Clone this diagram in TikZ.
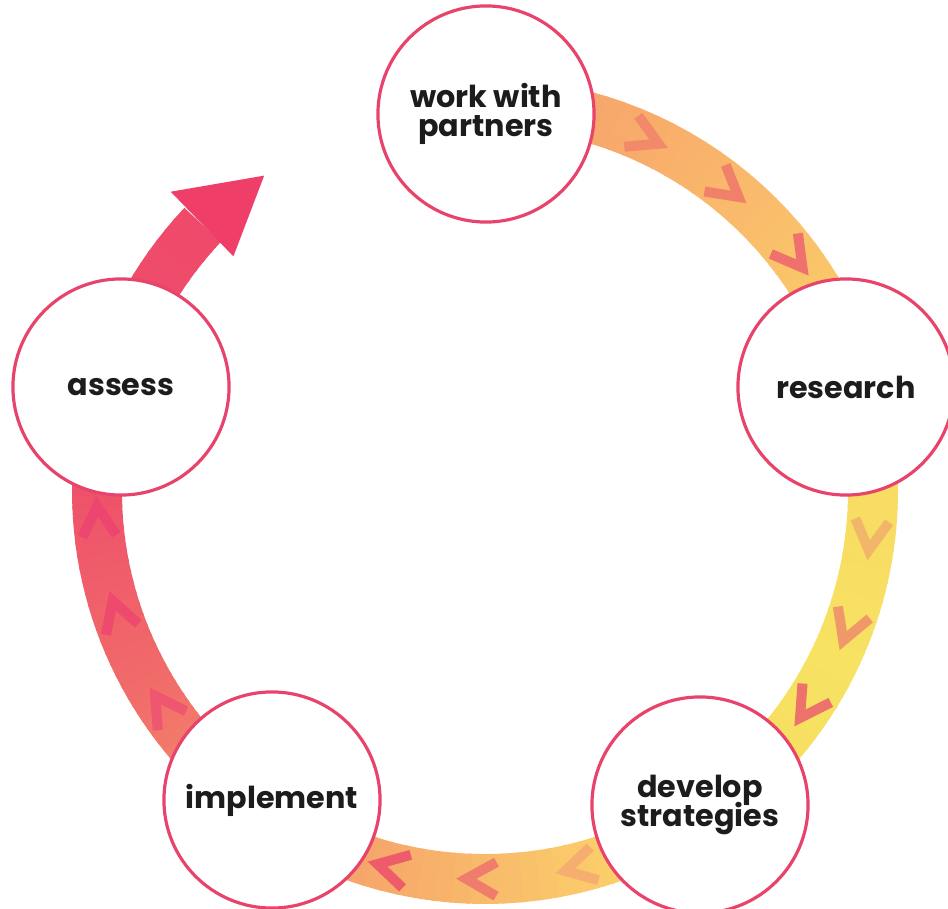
\documentclass[tikz,border=0pt]{standalone}
\usepackage{fontspec}
\setmainfont{Poppins}
% ring colours, clockwise from the top
\definecolor{g0}{HTML}{F59A6B}
\definecolor{g1}{HTML}{FAC06B}
\definecolor{g2}{HTML}{F8DA64}
\definecolor{g3}{HTML}{F7E262}
\definecolor{g4}{HTML}{F8DE60}
\definecolor{g5}{HTML}{FBCB6B}
\definecolor{g6}{HTML}{F4946B}
\definecolor{g7}{HTML}{F16C6A}
\definecolor{g8}{HTML}{EE4E6A}
\definecolor{g9}{HTML}{EF4A6A}
\definecolor{tipred}{HTML}{EF3F69}
\definecolor{rim}{HTML}{E8436B}
\definecolor{ink}{HTML}{1C1C1C}
% chevrons
\definecolor{c1}{HTML}{F2896B}
\definecolor{c2}{HTML}{F1806B}
\definecolor{c3}{HTML}{EF706C}
\definecolor{c4}{HTML}{F2B66B}
\definecolor{c5}{HTML}{F0986A}
\definecolor{c6}{HTML}{EE726C}
\definecolor{c7}{HTML}{F6AD70}
\definecolor{c8}{HTML}{F07C6B}
\definecolor{c9}{HTML}{EE5B6B}
\definecolor{c10}{HTML}{EC4570}
\definecolor{c11}{HTML}{EE4A6E}
\definecolor{c12}{HTML}{EF5670}
\newcommand\stagefont{\bfseries\fontsize{8.6}{8.1}\selectfont\lineskiplimit-10pt\relax}
\begin{document}
\begin{tikzpicture}[x=0.01cm, y=0.01cm, line join=round,
  stage/.style={circle, draw=rim, line width=0.9pt, fill=white, minimum size=2.16cm,
    inner sep=0pt, align=center, text=ink, font=\stagefont},
  chev/.style={line width=2.85pt, line join=miter, line cap=butt}]
\def\R{388}
\useasboundingbox (-485,-418) rectangle (463,491);
% ring, coloured piece by piece (t = degrees clockwise from the top)
\foreach \ta/\tb/\ca/\cb in {0/50/g0/g1, 50/85/g1/g2, 85/115/g2/g3, 115/150/g3/g4,
    150/165/g4/g5, 165/215/g5/g6, 215/240/g6/g7, 240/275/g7/g8, 275/313.3/g8/g9}
  \foreach \s in {0,...,19}{
    \pgfmathsetmacro\aa{90-\ta-(\tb-\ta)*\s/20+0.4}
    \pgfmathsetmacro\ab{90-\ta-(\tb-\ta)*(\s+1)/20}
    \pgfmathtruncatemacro\p{97-5*\s}
    \draw[line width=14.2pt, \ca!\p!\cb] (\aa:\R) arc[start angle=\aa, end angle=\ab, radius=\R];
  }
% arrow head
\fill[tipred] (136.4:434) -- (125:385) -- (137:344) -- cycle;
% chevrons along the ring
\foreach \a/\c in {65.5/c1, 51.3/c2, 37.2/c3, -6.7/c4, -20.6/c5, -33.7/c6,
    -76/c7, -90.7/c8, -104/c9, 184.3/c10, 198.5/c11, 213.9/c12}
  \draw[chev, \c, shift={(\a:\R)}, rotate=\a-90] (-16,17) -- (14,0) -- (-16,-17);
% stages
\node[stage] (work) at (1,377) {work with\\partners};
\node[stage] (research) at (361,104) {research};
\node[stage] (develop) at (215,-314) {develop\\strategies};
\node[stage] (implement) at (-213,-309) {implement};
\node[stage] (assess) at (-364,104) {assess};
\end{tikzpicture}
\end{document}
